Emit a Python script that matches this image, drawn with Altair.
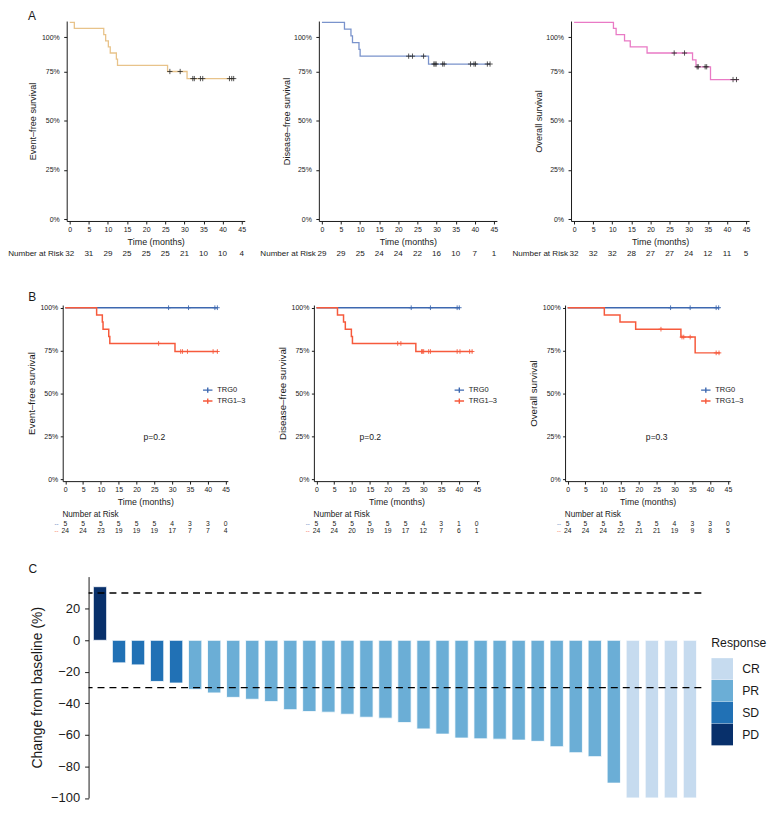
import altair as alt
import pandas as pd

FONT = "Liberation Sans"
INK = "#1a1a1a"
PLUS = "M-1,0H1M0,-1V1"
PLUS_LEG = "M-1,0H1M0,-0.55V0.55"

TIME_TICKS = [0, 5, 10, 15, 20, 25, 30, 35, 40, 45]

# ---------------- Panel A ----------------
A_YTITLES = ["Event–free survival", "Disease–free survival", "Overall survival"]
A_COLORS = ["#E8C38A", "#7A93CC", "#E97AC5"]

efs_time = [0, 1.2, 8.9, 9.4, 10.1, 10.6, 12.2, 12.5, 25.6, 30.7, 43.0]
efs_surv = [1.0, 0.969, 0.938, 0.906, 0.875, 0.844, 0.813, 0.781, 0.750, 0.714, 0.714]
efs_cens_time = [26.2, 28.9, 32.2, 32.6, 34.2, 34.8, 41.8, 42.4, 42.9]
efs_cens_surv = [0.750, 0.750, 0.714, 0.714, 0.714, 0.714, 0.714, 0.714, 0.714]
efs_risk = [32, 31, 29, 25, 25, 25, 21, 10, 10, 4]

dfs_time = [0, 5.9, 7.6, 8.0, 9.7, 10.0, 27.9, 44.0]
dfs_surv = [1.0, 0.966, 0.931, 0.897, 0.862, 0.828, 0.788, 0.788]
dfs_cens_time = [22.7, 23.7, 26.6, 29.3, 29.6, 29.9, 31.6, 32.0, 38.9, 39.8, 40.2, 43.3, 44.0]
dfs_cens_surv = [0.828, 0.828, 0.828, 0.788, 0.788, 0.788, 0.788, 0.788, 0.788, 0.788, 0.788, 0.788, 0.788]
dfs_risk = [29, 29, 25, 24, 24, 22, 16, 10, 7, 1]

os_time = [0, 10.3, 11.0, 13.2, 14.7, 19.1, 31.0, 31.9, 35.7, 43.1]
os_surv = [1.0, 0.969, 0.938, 0.906, 0.875, 0.844, 0.809, 0.774, 0.709, 0.709]
os_cens_time = [26.2, 28.9, 32.2, 32.5, 34.3, 34.7, 41.6, 42.5]
os_cens_surv = [0.844, 0.844, 0.774, 0.774, 0.774, 0.774, 0.709, 0.709]
os_risk = [32, 32, 32, 28, 27, 27, 24, 12, 11, 5]

# ---------------- Panel B ----------------
GROUPS = ["TRG0", "TRG1–3"]
B_COLORS = ["#3D68B0", "#F65A3C"]

b_efs_t0_time = [0, 42.7]
b_efs_t0_surv = [1.0, 1.0]
b_efs_t0_cens = [29.0, 34.6, 42.0, 42.7]
b_efs_t1_time = [0, 8.8, 10.4, 10.6, 12.2, 12.5, 30.8, 42.9]
b_efs_t1_surv = [1.0, 0.958, 0.917, 0.875, 0.833, 0.792, 0.745, 0.745]
b_efs_t1_cens_time = [26.2, 32.4, 32.9, 34.3, 41.5, 42.7]
b_efs_t1_cens_surv = [0.792, 0.745, 0.745, 0.745, 0.745, 0.745]
b_efs_risk0 = [5, 5, 5, 5, 5, 5, 4, 3, 3, 0]
b_efs_risk1 = [24, 24, 23, 19, 19, 19, 17, 7, 7, 4]

b_dfs_t0_time = [0, 40.3]
b_dfs_t0_surv = [1.0, 1.0]
b_dfs_t0_cens = [26.6, 32.0, 39.5, 40.1]
b_dfs_t1_time = [0, 5.9, 7.6, 8.1, 9.8, 10.1, 27.9, 43.9]
b_dfs_t1_surv = [1.0, 0.958, 0.917, 0.875, 0.833, 0.792, 0.745, 0.745]
b_dfs_t1_cens_time = [22.8, 23.7, 29.5, 29.8, 30.1, 31.5, 32.0, 39.5, 40.3, 43.0, 43.7]
b_dfs_t1_cens_surv = [0.792, 0.792, 0.745, 0.745, 0.745, 0.745, 0.745, 0.745, 0.745, 0.745, 0.745]
b_dfs_risk0 = [5, 5, 5, 5, 5, 5, 4, 3, 1, 0]
b_dfs_risk1 = [24, 24, 20, 19, 19, 17, 12, 7, 6, 1]

b_os_t0_time = [0, 42.6]
b_os_t0_surv = [1.0, 1.0]
b_os_t0_cens = [28.9, 34.4, 41.7, 42.4]
b_os_t1_time = [0, 10.3, 14.7, 19.1, 31.8, 35.8, 42.8]
b_os_t1_surv = [1.0, 0.958, 0.917, 0.875, 0.829, 0.737, 0.737]
b_os_t1_cens_time = [26.2, 32.1, 32.6, 34.4, 41.7, 42.5]
b_os_t1_cens_surv = [0.875, 0.829, 0.829, 0.829, 0.737, 0.737]
b_os_risk0 = [5, 5, 5, 5, 5, 5, 4, 3, 3, 0]
b_os_risk1 = [24, 24, 24, 22, 21, 21, 19, 9, 8, 5]

B_PVALS = ["p=0.2", "p=0.2", "p=0.3"]
B_PVAL_X = [25.0, 15.1, 25.0]
B_PVAL_Y = [0.245, 0.245, 0.245]
B_LEGEND_X = [140.3, 140.7, 136.0]

# ---------------- Panel C ----------------
C_VALUES = [34.0, -14.3, -15.6, -26.1, -27.1, -31.1, -33.4, -36.2, -37.4, -38.9,
            -44.0, -45.2, -45.6, -46.9, -48.8, -49.4, -52.2, -56.2, -59.5, -62.0,
            -62.5, -62.7, -63.3, -64.1, -67.5, -71.3, -73.8, -90.6, -100.0, -100.0,
            -100.0, -100.0]
C_RESPONSE = ["PD", "SD", "SD", "SD", "SD"] + ["PR"] * 23 + ["CR"] * 4
C_CATS = ["CR", "PR", "SD", "PD"]
C_COLORS = ["#C6DBEF", "#6BAED6", "#2171B5", "#08306B"]
C_YTICKS = [-100, -80, -60, -40, -20, 0, 20]
C_THRESH = [30, -30]


def spacer(w):
    return alt.Chart(pd.DataFrame({"a": [0]})).mark_point(opacity=0, size=1).encode(
        x=alt.value(0), y=alt.value(0)).properties(width=w, height=1)


def letter(lab, x, y):
    return alt.Chart(pd.DataFrame({"lab": [lab]})).mark_text(
        align="left", baseline="alphabetic", fontSize=12, font=FONT, color=INK
    ).encode(x=alt.value(x), y=alt.value(y), text="lab:N")


def a_chart(i, times, surv, ct, cs, risk, ytx):
    xs = alt.Scale(domain=[-0.8, 45.8], nice=False, zero=False)
    ys = alt.Scale(domain=[-0.01, 1.0066], nice=False, zero=False)
    xax = alt.Axis(values=TIME_TICKS, format="d", title="Time (months)", titleY=21,
                   titleBaseline="middle", titleFontSize=9, labelFontSize=7, tickSize=3,
                   labelPadding=1.5, labelFlush=False, labelOverlap=False)
    yax = alt.Axis(values=[0, 0.25, 0.5, 0.75, 0.924],
                   labelExpr="datum.value > 0.9 ? '100%' : format(datum.value, '.0%')",
                   title=A_YTITLES[i], titleX=ytx, titleBaseline="middle", titleFontSize=9.2,
                   labelFontSize=7, tickSize=3, labelPadding=4.5, labelOverlap=False)
    X = alt.X("t:Q", scale=xs, axis=xax)
    Y = alt.Y("s:Q", scale=ys, axis=yax)
    curve = alt.Chart(pd.DataFrame({"t": times, "s": surv})).mark_line(
        interpolate="step-after", color=A_COLORS[i], strokeWidth=1.3).encode(x=X, y=Y)
    cens = alt.Chart(pd.DataFrame({"t": ct, "s": cs})).mark_point(
        shape=PLUS, filled=False, size=28, color="#2b2b2b", strokeWidth=0.8, opacity=1
    ).encode(x=X, y=Y)
    risk_df = pd.DataFrame({"t": TIME_TICKS, "n": [str(v) for v in risk]})
    rtxt = alt.Chart(risk_df).mark_text(fontSize=8.1, font=FONT, color=INK, baseline="middle").encode(
        x=X, y=alt.value(234.7), text="n:N")
    rlab = alt.Chart(pd.DataFrame({"t": [-1.6], "lab": ["Number at Risk"]})).mark_text(
        align="right", fontSize=8.1, font=FONT, color=INK, baseline="middle").encode(
        x=X, y=alt.value(234.7), text="lab:N")
    layers = [curve, cens, rtxt, rlab]
    if i == 0:
        layers.append(letter("A", -39, -1))
    return alt.layer(*layers).properties(width=179, height=201)


def b_chart(i, t0, s0, c0, t1, s1, c1t, c1s, r0, r1, ytx):
    xs = alt.Scale(domain=[-0.725, 45.64], nice=False, zero=False)
    ys = alt.Scale(domain=[-0.0098, 1.0156], nice=False, zero=False)
    xax = alt.Axis(values=TIME_TICKS, format="d", title="Time (months)", titleY=21,
                   titleBaseline="middle", titleFontSize=8.8, labelFontSize=7, tickSize=3,
                   labelPadding=1.8, labelFlush=False, labelOverlap=False)
    yax = alt.Axis(values=[0, 0.25, 0.5, 0.75, 1.0], format=".0%",
                   title=A_YTITLES[i], titleX=ytx, titleBaseline="middle", titleFontSize=9.8,
                   labelFontSize=7, tickSize=2.5, labelPadding=2.5, labelOverlap=False)
    X = alt.X("t:Q", scale=xs, axis=xax)
    Y = alt.Y("s:Q", scale=ys, axis=yax)
    col = alt.Color("g:N", scale=alt.Scale(domain=GROUPS, range=B_COLORS),
                    legend=alt.Legend(orient="none", legendX=B_LEGEND_X[i], legendY=80, title=None,
                                      symbolType=PLUS_LEG, symbolSize=90, symbolStrokeWidth=1.4,
                                      labelFontSize=7.5, labelOffset=4, rowPadding=0, padding=0))
    curves = pd.DataFrame({"t": t0 + t1, "s": s0 + s1,
                           "g": [GROUPS[0]] * len(t0) + [GROUPS[1]] * len(t1)})
    cens = pd.DataFrame({"t": c0 + c1t, "s": [1.0] * len(c0) + c1s,
                         "g": [GROUPS[0]] * len(c0) + [GROUPS[1]] * len(c1t)})
    line = alt.Chart(curves).mark_line(interpolate="step-after", strokeWidth=1.5).encode(
        x=X, y=Y, color=col, detail="g:N")
    cm = alt.Chart(cens).mark_point(shape=PLUS, filled=False, size=22, strokeWidth=0.9, opacity=1).encode(
        x=X, y=Y, color=col)
    pv = alt.Chart(pd.DataFrame({"t": [B_PVAL_X[i]], "s": [B_PVAL_Y[i]], "lab": [B_PVALS[i]]})).mark_text(
        fontSize=8.6, font=FONT, color=INK).encode(x=X, y=Y, text="lab:N")
    rtitle = alt.Chart(pd.DataFrame({"t": [-0.8], "lab": ["Number at Risk"]})).mark_text(
        align="left", fontSize=8.2, font=FONT, color=INK, baseline="middle").encode(
        x=X, y=alt.value(210.7), text="lab:N")
    layers = [line, cm, pv, rtitle]
    for k, (rv, yy) in enumerate([(r0, 219.8), (r1, 226.8)]):
        rdf = pd.DataFrame({"t": TIME_TICKS, "n": [str(v) for v in rv]})
        layers.append(alt.Chart(rdf).mark_text(fontSize=6.8, font=FONT, color=INK, baseline="middle").encode(
            x=X, y=alt.value(yy), text="n:N"))
        layers.append(alt.Chart(pd.DataFrame({"t": [-2.45], "lab": ["--"]})).mark_text(
            fontSize=6, font=FONT, color=B_COLORS[k], baseline="middle").encode(
            x=X, y=alt.value(yy), text="lab:N"))
    if i == 0:
        layers.append(letter("B", -34.7, -4))
    return alt.layer(*layers).properties(width=166, height=177)


a1 = a_chart(0, efs_time, efs_surv, efs_cens_time, efs_cens_surv, efs_risk, -34)
a2 = a_chart(1, dfs_time, dfs_surv, dfs_cens_time, dfs_cens_surv, dfs_risk, -32.5)
a3 = a_chart(2, os_time, os_surv, os_cens_time, os_cens_surv, os_risk, -32.5)

b1 = b_chart(0, b_efs_t0_time, b_efs_t0_surv, b_efs_t0_cens, b_efs_t1_time, b_efs_t1_surv,
             b_efs_t1_cens_time, b_efs_t1_cens_surv, b_efs_risk0, b_efs_risk1, -31)
b2 = b_chart(1, b_dfs_t0_time, b_dfs_t0_surv, b_dfs_t0_cens, b_dfs_t1_time, b_dfs_t1_surv,
             b_dfs_t1_cens_time, b_dfs_t1_cens_surv, b_dfs_risk0, b_dfs_risk1, -31.5)
b3 = b_chart(2, b_os_t0_time, b_os_t0_surv, b_os_t0_cens, b_os_t1_time, b_os_t1_surv,
             b_os_t1_cens_time, b_os_t1_cens_surv, b_os_risk0, b_os_risk1, -32)

# Panel C
cdf = pd.DataFrame({"id": list(range(1, len(C_VALUES) + 1)), "v": C_VALUES, "r": C_RESPONSE})
cys = alt.Scale(domain=[-100, 40.4], nice=False, zero=False)
cyax = alt.Axis(values=C_YTICKS, title="Change from baseline (%)", titleX=-51.6, titleBaseline="middle",
                titleFontSize=14, labelFontSize=13, tickSize=4, labelPadding=5, labelOverlap=False)
bars = alt.Chart(cdf).mark_bar(stroke="white", strokeWidth=0.8).encode(
    x=alt.X("id:O", sort=None, axis=None, scale=alt.Scale(paddingInner=0.3, paddingOuter=0.25)),
    y=alt.Y("v:Q", scale=cys, axis=cyax),
    color=alt.Color("r:N", scale=alt.Scale(domain=C_CATS, range=C_COLORS),
                    legend=alt.Legend(orient="none", legendX=626, legendY=60.5, title="Response",
                                      titleFontSize=12.3, titlePadding=9.0, labelFontSize=12.3,
                                      symbolType="square", symbolSize=470, rowPadding=0,
                                      labelOffset=9, padding=0, symbolStrokeWidth=0)))
rules = alt.Chart(pd.DataFrame({"v": C_THRESH})).mark_rule(
    color="black", strokeDash=[7, 5], strokeWidth=1.3).encode(y=alt.Y("v:Q", scale=cys, axis=cyax))
c = alt.layer(bars, rules, letter("C", -60.3, -4)).properties(width=616, height=222.5)

rowA = alt.hconcat(spacer(4), alt.hconcat(a1, a2, a3, spacing=74.5, bounds="flush"),
                   spacing=0, bounds="flush")
rowB = alt.hconcat(b1, b2, b3, spacing=86.5, bounds="flush").resolve_scale(color="independent")
rowC = alt.hconcat(spacer(26), c, spacing=0, bounds="flush").resolve_scale(color="independent")

top = alt.vconcat(rowA, rowB, spacing=32.5).resolve_scale(color="independent")
chart = alt.vconcat(top, rowC, spacing=27.5).resolve_scale(color="independent").properties(
    padding=0, background="white"
).configure_view(stroke=None).configure_axis(
    grid=False, domainColor=INK, tickColor=INK, labelColor=INK, titleColor=INK,
    labelFont=FONT, titleFont=FONT, titleFontWeight="normal", domainWidth=1, tickWidth=1
).configure_legend(labelFont=FONT, titleFont=FONT, labelColor=INK, titleColor=INK,
                   titleFontWeight="normal")

chart.save("out.html", embed_options={"renderer": "svg", "actions": False})
